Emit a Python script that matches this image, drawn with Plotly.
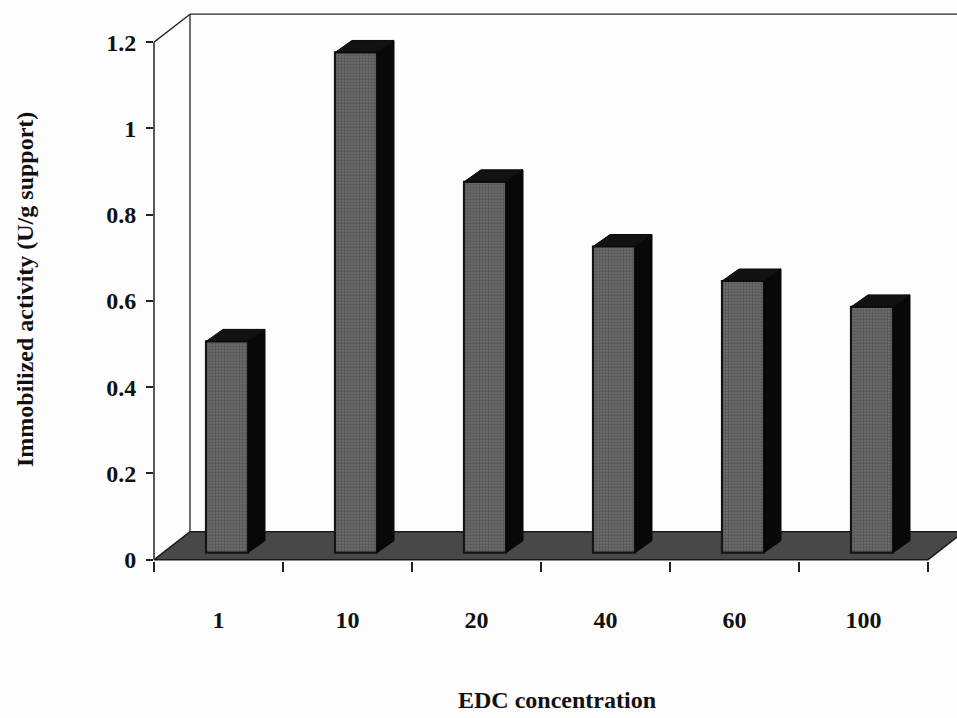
import plotly.graph_objects as go

# ---- data ----
categories = ["1", "10", "20", "40", "60", "100"]
activity = [0.49, 1.16, 0.86, 0.71, 0.63, 0.57]
y_tick_vals = [0, 0.2, 0.4, 0.6, 0.8, 1.0, 1.2]
y_tick_text = ["0", "0.2", "0.4", "0.6", "0.8", "1", "1.2"]
x_title = "EDC concentration"
y_title = "Immobilized activity (U/g support)"

# ---- geometry (pixel sizes converted to data units) ----
W, H = 957, 718
ML, MR, MT, MB = 154, 0, 12, 157
plot_w = W - ML - MR
plot_h = H - MT - MB
n = len(categories)
X0, X1 = -0.5, n - 0.5
PX_X = 129.0
x_max = X0 + plot_w / PX_X
Y_MIN, Y_MAX = -0.003, 1.27
PX_Y = plot_h / (Y_MAX - Y_MIN)

wall_dx, wall_dy = 36 / PX_X, 28 / PX_Y
front_dx, front_dy = 8.5 / PX_X, 7 / PX_Y
bar_w = 42 / PX_X
bar_dx, bar_dy = 17 / PX_X, 12 / PX_Y
y_top_tick = y_tick_vals[-1]

FONT = "Liberation Serif"

fig = go.Figure()

# front faces
fig.add_trace(go.Bar(
    x=list(range(n)), y=activity, base=front_dy,
    width=bar_w, offset=front_dx - bar_w / 2,
    marker=dict(color="#6c6c6c",
                line=dict(color="#141414", width=2.2),
                pattern=dict(shape=".", fgcolor="#3e3e3e", size=3, solidity=0.45)),
    hoverinfo="skip", showlegend=False,
))

# side faces and top caps
sx, sy, tx, ty = [], [], [], []
for i, v in enumerate(activity):
    xl = i + front_dx - bar_w / 2
    xr = xl + bar_w
    yb = front_dy
    yt = front_dy + v
    sx += [xr, xr + bar_dx, xr + bar_dx, xr, xr, None]
    sy += [yb, yb + bar_dy, yt + bar_dy, yt, yb, None]
    tx += [xl, xl + bar_dx, xr + bar_dx, xr, xl, None]
    ty += [yt, yt + bar_dy, yt + bar_dy, yt, yt, None]

fig.add_trace(go.Scatter(x=sx, y=sy, mode="lines", fill="toself",
                         fillcolor="#080808", line=dict(color="#080808", width=1),
                         hoverinfo="skip", showlegend=False))
fig.add_trace(go.Scatter(x=tx, y=ty, mode="lines", fill="toself",
                         fillcolor="#121212", line=dict(color="#080808", width=1),
                         hoverinfo="skip", showlegend=False))

shapes = []
# floor
shapes.append(dict(type="path", xref="x", yref="y", layer="below",
                   path=f"M {X0},0 L {X1},0 L {X1 + wall_dx},{wall_dy} L {X0 + wall_dx},{wall_dy} Z",
                   fillcolor="#484848", line=dict(color="#1a1a1a", width=1.5)))
# back wall edges
shapes.append(dict(type="line", xref="x", yref="y", layer="below",
                   x0=X0 + wall_dx, y0=wall_dy, x1=X0 + wall_dx, y1=y_top_tick + wall_dy,
                   line=dict(color="#222", width=1.3)))
shapes.append(dict(type="line", xref="x", yref="y", layer="below",
                   x0=X0 + wall_dx, y0=y_top_tick + wall_dy, x1=X1 + wall_dx, y1=y_top_tick + wall_dy,
                   line=dict(color="#222", width=1.3)))
# front vertical axis and top diagonal
shapes.append(dict(type="line", xref="paper", yref="y",
                   x0=0, y0=0, x1=0, y1=y_top_tick,
                   line=dict(color="#222", width=1.5)))
shapes.append(dict(type="line", xref="x", yref="y",
                   x0=X0, y0=y_top_tick, x1=X0 + wall_dx, y1=y_top_tick + wall_dy,
                   line=dict(color="#222", width=1.3)))

annotations = [
    dict(text=x_title, xref="paper", yref="paper",
         x=(557 - ML) / plot_w, y=-(700 - (H - MB)) / plot_h,
         showarrow=False, xanchor="center", yanchor="middle",
         font=dict(family=FONT, size=24, color="#111", weight="bold")),
    dict(text=y_title, xref="paper", yref="paper",
         x=(25 - ML) / plot_w, y=(H - MB - 290) / plot_h,
         showarrow=False, xanchor="center", yanchor="middle", textangle=-90,
         font=dict(family=FONT, size=24, color="#111", weight="bold")),
]

fig.update_layout(
    width=W, height=H,
    margin=dict(l=ML, r=MR, t=MT, b=MB, pad=0),
    paper_bgcolor="#fdfdfd", plot_bgcolor="#fdfdfd",
    shapes=shapes, annotations=annotations,
    showlegend=False,
    xaxis=dict(range=[X0, x_max], tickmode="array", tickvals=list(range(n)),
               ticktext=categories, ticks="", ticklen=0, showgrid=False, zeroline=False,
               showline=False, ticklabelstandoff=42,
               tickfont=dict(family=FONT, size=24, color="#111", weight="bold"),
               minor=dict(tickmode="array", tickvals=[X0 + k for k in range(n + 1)],
                          ticks="outside", ticklen=10, tickwidth=1.5, tickcolor="#222",
                          showgrid=False)),
    yaxis=dict(range=[Y_MIN, Y_MAX], tickmode="array", tickvals=y_tick_vals,
               ticktext=y_tick_text, ticks="outside", ticklen=7, tickwidth=1.5,
               tickcolor="#222", showgrid=False, zeroline=False, showline=False,
               ticklabelstandoff=5,
               tickfont=dict(family=FONT, size=24, color="#111", weight="bold")),
)

fig.write_html("out.html")
